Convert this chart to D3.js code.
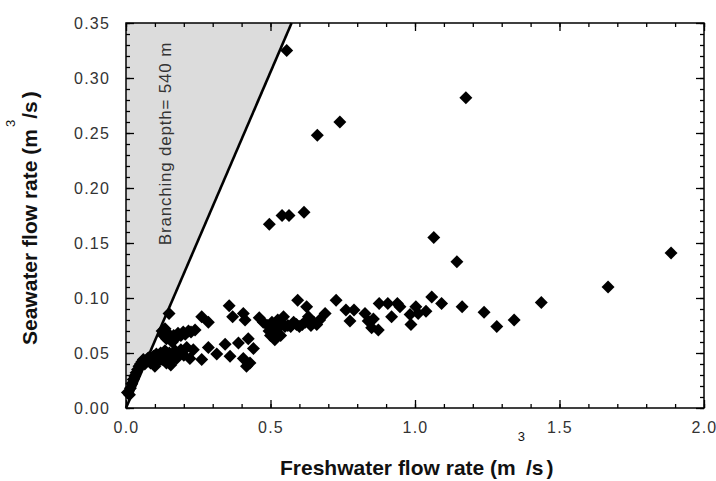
<!doctype html>
<html>

<head>
    <title>flow rates</title>
    <script src="https://d3js.org/d3.v7.min.js"></script>
    <style>
      body { margin: 0; background: #fff; }
      text { font-family: "Liberation Sans", Arial, sans-serif; }
    </style>
</head>

<body>

    <script>

    // measured data (freshwater m3/s, seawater m3/s)
    var freshwater = [
      0.005, 0.012, 0.015, 0.02, 0.025, 0.03, 0.035, 0.04, 0.045, 0.05, 0.055, 0.06, 0.065, 0.07, 0.075,
      0.08, 0.085, 0.09, 0.095, 0.1, 0.1, 0.105, 0.11, 0.115, 0.12, 0.125, 0.13, 0.135, 0.14, 0.145,
      0.15, 0.155, 0.16, 0.165, 0.17, 0.175, 0.185, 0.19, 0.2, 0.21,
      0.125, 0.13, 0.135, 0.14, 0.145, 0.149, 0.152, 0.16, 0.165, 0.17, 0.18, 0.19, 0.198, 0.205, 0.216,
      0.225, 0.239, 0.262, 0.285,
      0.221, 0.233, 0.262, 0.285, 0.314, 0.343, 0.36, 0.389, 0.406, 0.417, 0.429, 0.423, 0.441,
      0.357, 0.369, 0.406, 0.412, 0.461, 0.475, 0.49, 0.495, 0.5, 0.505, 0.51, 0.515, 0.52, 0.525, 0.53,
      0.535, 0.54, 0.545, 0.55, 0.56, 0.57, 0.58, 0.59, 0.594, 0.6, 0.61, 0.62, 0.625, 0.631, 0.64, 0.65,
      0.66, 0.67, 0.689, 0.727,
      0.761, 0.789, 0.775, 0.827, 0.838, 0.856, 0.85, 0.873, 0.876, 0.906, 0.939, 0.919, 0.948, 0.983,
      1.003, 1.011, 0.986, 1.038, 1.058, 1.092,
      1.163, 1.239, 1.283, 1.343, 1.437, 1.668, 1.886,
      0.496, 0.54, 0.564, 0.616, 0.556, 0.662, 0.74, 1.176, 1.065, 1.145
    ];
    var seawater = [
      0.014, 0.012, 0.018, 0.022, 0.026, 0.029, 0.032, 0.035, 0.038, 0.04, 0.042, 0.044, 0.04, 0.043, 0.045,
      0.046, 0.041, 0.044, 0.047, 0.038, 0.045, 0.049, 0.042, 0.046, 0.05, 0.044, 0.048, 0.052, 0.041, 0.046,
      0.05, 0.039, 0.044, 0.048, 0.052, 0.045, 0.05, 0.053, 0.048, 0.055,
      0.07, 0.066, 0.072, 0.063, 0.068, 0.086, 0.065, 0.06, 0.066, 0.063, 0.068, 0.066, 0.069, 0.067, 0.07,
      0.069, 0.071, 0.083, 0.078,
      0.045, 0.053, 0.044, 0.055, 0.049, 0.058, 0.047, 0.059, 0.045, 0.038, 0.041, 0.063, 0.054,
      0.093, 0.083, 0.086, 0.08, 0.082, 0.078, 0.075, 0.07, 0.066, 0.078, 0.073, 0.062, 0.07, 0.08, 0.074,
      0.066, 0.077, 0.083, 0.074, 0.075, 0.074, 0.078, 0.076, 0.098, 0.074, 0.076, 0.078, 0.092, 0.083, 0.075, 0.078,
      0.076, 0.08, 0.086, 0.098,
      0.089, 0.089, 0.079, 0.086, 0.079, 0.081, 0.073, 0.071, 0.095, 0.095, 0.095, 0.083, 0.092, 0.085,
      0.092, 0.086, 0.076, 0.088, 0.101, 0.095,
      0.092, 0.087, 0.074, 0.08, 0.096, 0.11, 0.141,
      0.167, 0.175, 0.175, 0.178, 0.325, 0.248, 0.26, 0.282, 0.155, 0.133
    ];

    // branching depth = 540 m limit line
    var limitX = [0, 0.573];
    var limitY = [0, 0.35];

    var xMajor = [0, 0.5, 1.0, 1.5, 2.0];
    var xLabels = ['0.0', '0.5', '1.0', '1.5', '2.0'];
    var yMajor = [0, 0.05, 0.1, 0.15, 0.2, 0.25, 0.3, 0.35];
    var yLabels = ['0.00', '0.05', '0.10', '0.15', '0.20', '0.25', '0.30', '0.35'];

    //set canvas parameters
    var canvasWidth = 716;
    var canvasHeight = 481;
    var margin = {left: 126, top: 23, right: 12, bottom: 73};
    var w = canvasWidth - margin.left - margin.right;
    var h = canvasHeight - margin.top - margin.bottom;

    var svg = d3.select('body')
                .append('svg')
                .attr('width', canvasWidth)
                .attr('height', canvasHeight);

    var canvas = svg.append('g')
                    .attr('transform', 'translate(' + margin.left + ',' + margin.top + ')');

    var xScale = d3.scaleLinear().domain([0, 2.0]).range([0, w]);
    var yScale = d3.scaleLinear().domain([0, 0.35]).range([h, 0]);

    // shaded area left of the limit line
    var shade = [[limitX[0], limitY[0]], [limitX[1], limitY[1]], [0, limitY[1]]];
    canvas.append('polygon')
          .attr('points', shade.map(function (p) { return xScale(p[0]) + ',' + yScale(p[1]); }).join(' '))
          .attr('fill', '#dcdcdc');

    canvas.append('line')
          .attr('x1', xScale(limitX[0])).attr('y1', yScale(limitY[0]))
          .attr('x2', xScale(limitX[1])).attr('y2', yScale(limitY[1]))
          .attr('stroke', '#000')
          .attr('stroke-width', 2.6);

    canvas.append('text')
          .attr('transform', 'translate(' + xScale(0.155) + ',' + yScale(0.148) + ') rotate(-90)')
          .attr('font-size', 17)
          .attr('letter-spacing', 0.8)
          .attr('fill', '#333')
          .text('Branching depth= 540 m');

    // minor and major ticks, pointing inward on all four sides
    var xMinor = d3.range(0, 2.001, 0.1);
    var yMinor = d3.range(0, 0.3501, 0.01);

    function addAxis(axis, tx, ty) {
      var g = canvas.append('g')
                    .attr('transform', 'translate(' + tx + ',' + ty + ')')
                    .call(axis);
      g.select('.domain').remove();
      g.selectAll('line').attr('stroke', '#000').attr('stroke-width', 1.3);
      return g;
    }

    addAxis(d3.axisBottom(xScale).tickValues(xMinor).tickSize(-4).tickFormat(''), 0, h);
    addAxis(d3.axisTop(xScale).tickValues(xMinor).tickSize(-4).tickFormat(''), 0, 0);
    addAxis(d3.axisLeft(yScale).tickValues(yMinor).tickSize(-4).tickFormat(''), 0, 0);
    addAxis(d3.axisRight(yScale).tickValues(yMinor).tickSize(-4).tickFormat(''), w, 0);
    addAxis(d3.axisTop(xScale).tickValues(xMajor).tickSize(-8).tickFormat(''), 0, 0);
    addAxis(d3.axisRight(yScale).tickValues(yMajor).tickSize(-8).tickFormat(''), w, 0);

    var xAxis = addAxis(d3.axisBottom(xScale).tickValues(xMajor).tickSize(-8).tickPadding(14)
                          .tickFormat(function (d, i) { return xLabels[i]; }), 0, h);
    var yAxis = addAxis(d3.axisLeft(yScale).tickValues(yMajor).tickSize(-8).tickPadding(16)
                          .tickFormat(function (d, i) { return yLabels[i]; }), 0, 0);

    [xAxis, yAxis].forEach(function (g) {
      g.selectAll('text')
       .attr('font-family', '"Liberation Sans", Arial, sans-serif')
       .attr('font-size', 16)
       .attr('letter-spacing', 1.2)
       .attr('fill', '#333');
    });

    // frame
    canvas.append('rect')
          .attr('width', w).attr('height', h)
          .attr('fill', 'none')
          .attr('stroke', '#000')
          .attr('stroke-width', 1.5);

    // diamond markers
    var diamond = d3.symbol().type(d3.symbolSquare).size(84);
    canvas.selectAll('path.pt')
          .data(d3.range(freshwater.length))
          .enter()
          .append('path')
          .attr('class', 'pt')
          .attr('d', diamond)
          .attr('transform', function (i) {
            return 'translate(' + xScale(freshwater[i]) + ',' + yScale(seawater[i]) + ') rotate(45)';
          })
          .attr('fill', '#000');

    // axis titles (superscript sits well above the line, as in the original)
    function addTitle(transform, main, supShift) {
      var t = svg.append('text')
                 .attr('transform', transform)
                 .attr('font-size', 21)
                 .attr('font-weight', 'bold')
                 .attr('fill', '#111');
      t.append('tspan').text(main);
      t.append('tspan').attr('dx', 2).attr('dy', -supShift)
       .attr('font-size', 13).attr('font-weight', 'normal').text('3');
      t.append('tspan').attr('dx', 1).attr('dy', supShift).text('/s');
      t.append('tspan').attr('dx', 3).text(')');
    }

    addTitle('translate(280,475)', 'Freshwater flow rate (m', 34);
    addTitle('translate(37,345) rotate(-90)', 'Seawater flow rate (m', 22);

    </script>

</body>

</html>
